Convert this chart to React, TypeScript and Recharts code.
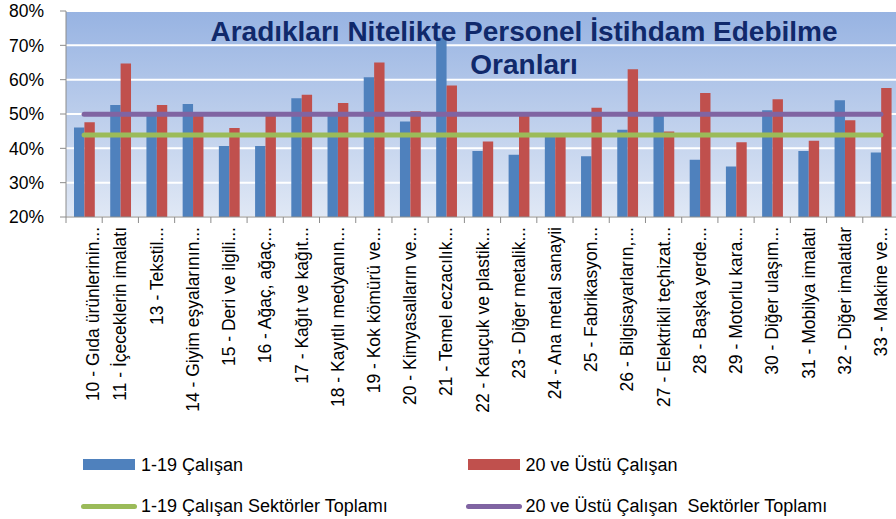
import React from 'react';
import { ComposedChart, Bar, Line, XAxis, YAxis, CartesianGrid } from 'recharts';

const categories = [
  '10 - Gıda ürünlerinin...',
  '11 - İçeceklerin imalatı',
  '13 - Tekstil...',
  '14 - Giyim eşyalarının...',
  '15 - Deri ve ilgili...',
  '16 - Ağaç, ağaç...',
  '17 - Kağıt ve kağıt...',
  '18 - Kayıtlı medyanın...',
  '19 - Kok kömürü ve...',
  '20 - Kimyasalların ve...',
  '21 - Temel eczacılık...',
  '22 - Kauçuk ve plastik...',
  '23 - Diğer metalik...',
  '24 - Ana metal sanayii',
  '25 - Fabrikasyon...',
  '26 - Bilgisayarların,...',
  '27 - Elektrikli teçhizat...',
  '28 - Başka yerde...',
  '29 - Motorlu kara...',
  '30 - Diğer ulaşım...',
  '31 - Mobilya imalatı',
  '32 - Diğer imalatlar',
  '33 - Makine ve...',
];

const small119 = [46.1, 52.6, 50.0, 52.9, 40.7, 40.7, 54.6, 49.8, 60.7, 47.8, 72.2, 39.2, 38.1, 43.6, 37.7, 45.4, 49.4, 36.7, 34.7, 51.1, 39.2, 54.0, 38.8];
const large20 = [47.6, 64.7, 52.6, 50.6, 45.9, 49.5, 55.6, 53.2, 65.0, 50.8, 58.3, 42.0, 49.5, 43.4, 51.8, 63.0, 44.9, 56.1, 41.8, 54.3, 42.2, 48.2, 57.6];

const total119 = 43.9;
const total20 = 49.9;

const yTicks = [20, 30, 40, 50, 60, 70, 80];

const seriesNames = [
  '1-19 Çalışan',
  '20 ve Üstü Çalışan',
  '1-19 Çalışan Sektörler Toplamı',
  '20 ve Üstü Çalışan  Sektörler Toplamı',
];

const titleLines = ['Aradıkları Nitelikte Personel İstihdam Edebilme', 'Oranları'];

const COLORS = ['#4f81bd', '#c0504d', '#9bbb59', '#8064a2'];

const data = categories.map((name, i) => ({
  name,
  a: small119[i],
  b: large20[i],
  t1: total119,
  t2: total20,
}));

const FONT = '"Liberation Sans", Arial, sans-serif';
const AXIS = '#8c8c8c';

const XTick = (props: any) => {
  const { x, y, payload, index } = props;
  const half = payload && typeof payload.offset === 'number' && payload.offset > 0 ? payload.offset : (900 - 1 - 66) / categories.length / 2;
  const dx = index === 0 ? 9 : 0;
  const tx = x + dx;
  const ty = y + 10;
  return (
    <g>
      <line x1={x - half} x2={x - half} y1={y} y2={y + 6} stroke={AXIS} strokeWidth={1} />
      {index === categories.length - 1 && (
        <line x1={x + half} x2={x + half} y1={y} y2={y + 6} stroke={AXIS} strokeWidth={1} />
      )}
      <text
        x={tx}
        y={ty}
        transform={`rotate(-90, ${tx}, ${ty})`}
        textAnchor="end"
        dy="0.35em"
        fontSize={17.5}
        fontFamily={FONT}
        fill="#000"
      >
        {payload.value}
      </text>
    </g>
  );
};

const legendText: React.CSSProperties = {
  position: 'absolute',
  fontFamily: FONT,
  fontSize: 18,
  lineHeight: '20px',
  color: '#000',
  whiteSpace: 'pre',
};

export default function App() {
  return (
    <div style={{ position: 'fixed', left: 0, top: 0, width: 896, height: 519, overflow: 'hidden', background: '#fff' }}>
      <ComposedChart
        width={900}
        height={519}
        data={data}
        margin={{ top: 11, right: 1, bottom: 72, left: 0 }}
        barGap={0}
        barSize={10.4}
      >
        <defs>
          <linearGradient id="plotBg" x1="0" y1="0" x2="0" y2="1">
            <stop offset="0%" stopColor="#97b3e2" />
            <stop offset="100%" stopColor="#e0e8f5" />
          </linearGradient>
        </defs>
        <CartesianGrid vertical={false} stroke="#ffffff" strokeWidth={2} fill="url(#plotBg)" fillOpacity={1} />
        <XAxis
          dataKey="name"
          interval={0}
          height={230}
          tickSize={0}
          tickMargin={0}
          axisLine={{ stroke: AXIS }}
          tickLine={false}
          tick={<XTick />}
        />
        <YAxis
          domain={[20, 80]}
          ticks={yTicks}
          width={66}
          tickSize={6}
          tickMargin={16}
          tickFormatter={(v: number) => `${v}%`}
          axisLine={{ stroke: AXIS }}
          tickLine={{ stroke: AXIS }}
          tick={{ fontSize: 17.5, fill: '#000', fontFamily: FONT }}
          allowDataOverflow
        />
        <Bar dataKey="a" name={seriesNames[0]} fill={COLORS[0]} isAnimationActive={false} />
        <Bar dataKey="b" name={seriesNames[1]} fill={COLORS[1]} isAnimationActive={false} />
        <Line dataKey="t1" name={seriesNames[2]} stroke={COLORS[2]} strokeWidth={5} strokeLinecap="round" dot={false} activeDot={false} isAnimationActive={false} />
        <Line dataKey="t2" name={seriesNames[3]} stroke={COLORS[3]} strokeWidth={5} strokeLinecap="round" dot={false} activeDot={false} isAnimationActive={false} />
      </ComposedChart>

      <div
        style={{
          position: 'absolute',
          left: 124,
          width: 800,
          top: 14.8,
          textAlign: 'center',
          fontFamily: FONT,
          fontWeight: 'bold',
          fontSize: 28,
          lineHeight: '33px',
          color: '#10296b',
          pointerEvents: 'none',
        }}
      >
        {titleLines.map((t) => (
          <div key={t}>{t}</div>
        ))}
      </div>

      <div style={{ position: 'absolute', left: 83, top: 458.5, width: 52, height: 11, background: COLORS[0] }} />
      <div style={{ ...legendText, left: 141, top: 454.7 }}>{seriesNames[0]}</div>
      <div style={{ position: 'absolute', left: 468, top: 458.5, width: 52, height: 11, background: COLORS[1] }} />
      <div style={{ ...legendText, left: 525.5, top: 454.7 }}>{seriesNames[1]}</div>
      <div style={{ position: 'absolute', left: 81, top: 503.5, width: 56, height: 5, borderRadius: 2.5, background: COLORS[2] }} />
      <div style={{ ...legendText, left: 141, top: 495.7 }}>{seriesNames[2]}</div>
      <div style={{ position: 'absolute', left: 466, top: 503.5, width: 56, height: 5, borderRadius: 2.5, background: COLORS[3] }} />
      <div style={{ ...legendText, left: 525.5, top: 495.7 }}>{seriesNames[3]}</div>
    </div>
  );
}
